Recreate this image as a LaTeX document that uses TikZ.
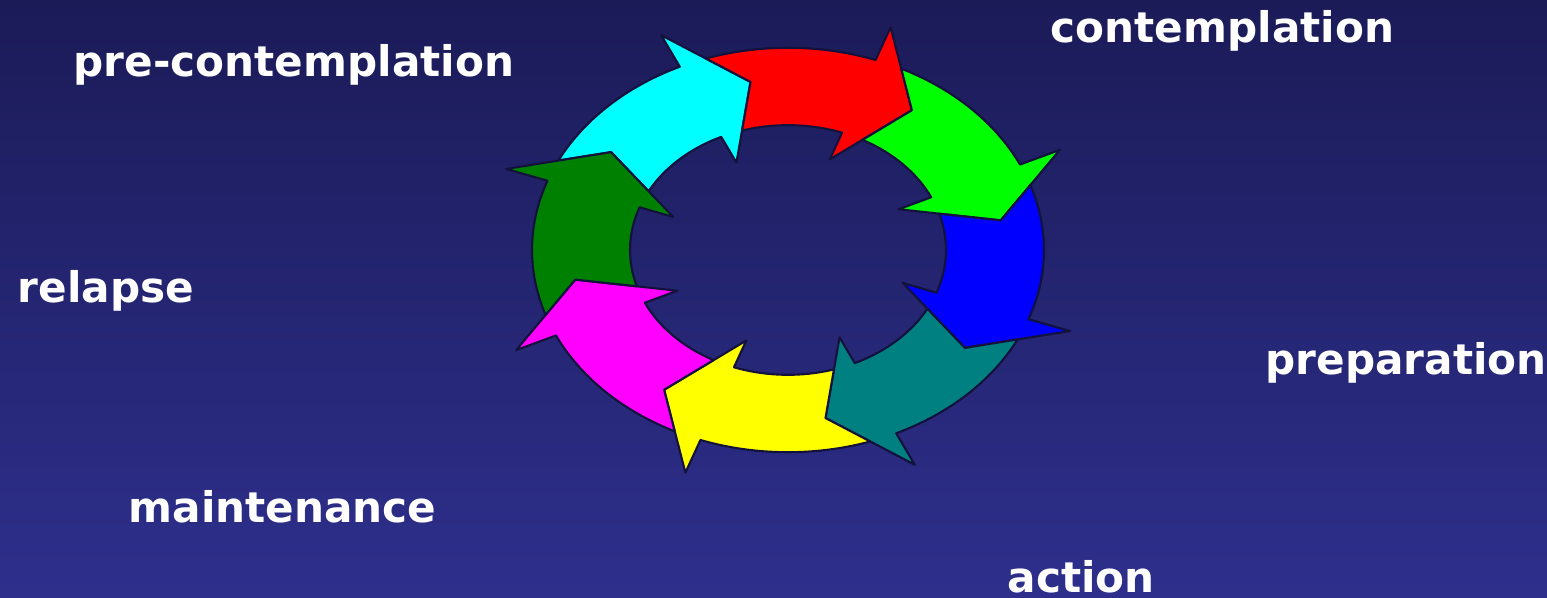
\documentclass[tikz,border=0pt]{standalone}
\usepackage{fontspec}
\setmainfont{DejaVu Sans}
\definecolor{bgtop}{RGB}{27,27,88}
\definecolor{bgbottom}{RGB}{46,47,140}
\definecolor{rim}{RGB}{18,18,60}
\definecolor{arrcyan}{RGB}{0,255,255}
\definecolor{arrred}{RGB}{255,0,0}
\definecolor{arrlime}{RGB}{0,255,0}
\definecolor{arrblue}{RGB}{0,0,255}
\definecolor{arrteal}{RGB}{0,128,128}
\definecolor{arryellow}{RGB}{255,255,0}
\definecolor{arrmagenta}{RGB}{255,0,255}
\definecolor{arrgreen}{RGB}{0,128,0}
\begin{document}
\begin{tikzpicture}[x=1cm,y=1cm,line cap=round,line join=round,
    stage/.style={white,font=\bfseries\fontsize{12}{14}\selectfont,anchor=base west,inner sep=0pt},
    ringarrow/.style={draw=rim,line width=0.6pt}]
  \shade[top color=bgtop,bottom color=bgbottom] (0,0) rectangle (15.47,5.98);
  \useasboundingbox (0,0) rectangle (15.47,5.98);
  % eight arrows round the ring, one tip every 45 degrees
  \begin{scope}[shift={(7.88,3.48)},yscale=0.79]
    \foreach \ang/\col in {100/arrcyan,55/arrred,10/arrlime,-35/arrblue,-80/arrteal,-125/arryellow,-170/arrmagenta,145/arrgreen}{
      \fill[ringarrow,fill=\col,rotate=\ang] (53.74:2.56) arc[start angle=53.74,end angle=15,radius=2.56]
        -- (15:3.00) -- (0:2.16) -- (15:1.22) -- (15:1.58)
        arc[start angle=15,end angle=51.91,radius=1.58] -- (45:2.16) -- cycle;
    }
  \end{scope}
  \node[stage] (precon) at (0.73,5.21) {pre-contemplation};
  \node[stage] (contemp) at (10.50,5.55) {contemplation};
  \node[stage] (relapse) at (0.17,2.95) {relapse};
  \node[stage] (prep) at (12.65,2.23) {preparation};
  \node[stage] (maint) at (1.28,0.75) {maintenance};
  \node[stage] (action) at (10.07,0.05) {action};
\end{tikzpicture}
\end{document}
